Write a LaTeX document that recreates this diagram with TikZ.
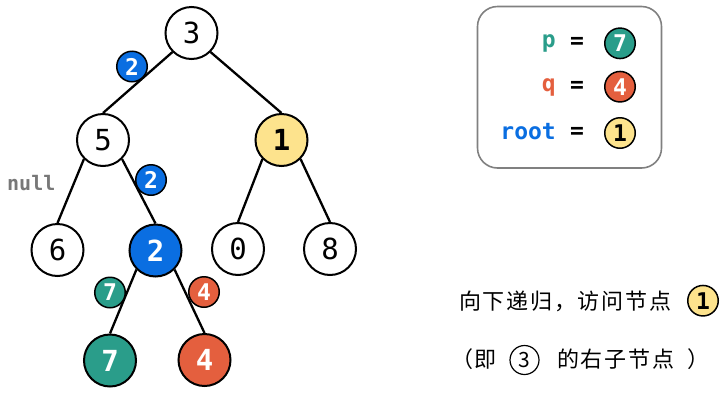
\documentclass[tikz,border=0pt]{standalone}
\usepackage{fontspec}
\setmonofont{DejaVu Sans Mono}
\newfontfamily\cjk[LetterSpace=8]{Noto Sans CJK SC}
\newfontfamily\cjkplain{Noto Sans CJK SC}
\definecolor{cblue}{RGB}{10,110,225}
\definecolor{cteal}{RGB}{42,157,138}
\definecolor{cred}{RGB}{228,95,62}
\definecolor{cyellow}{RGB}{253,227,141}
\definecolor{cgray}{RGB}{128,128,128}
\definecolor{cnull}{RGB}{120,120,120}
\tikzset{
  tn/.style={circle, draw=black, line width=2pt, minimum size=52pt, inner sep=0pt, fill=white,
    font=\fontsize{29}{29}\selectfont\ttfamily},
  tnb/.style={tn, font=\fontsize{29}{29}\selectfont\ttfamily\bfseries},
  badge/.style={circle, draw=black, line width=1.5pt, minimum size=30.5pt, inner sep=0pt, text=white,
    font=\fontsize{23}{23}\selectfont\ttfamily\bfseries},
  edge/.style={line width=2.3pt, draw=black},
  leg/.style={font=\fontsize{23}{23}\selectfont\ttfamily\bfseries, inner sep=0pt},
  cjkt/.style={font=\fontsize{22}{22}\selectfont\cjk, inner sep=0pt},
}
\begin{document}
\begin{tikzpicture}[x=1pt, y=-1pt]
\useasboundingbox (0,0) rectangle (720,405);
% tree nodes
\node[tn] (n3) at (191.5,33) {3};
\node[tn] (n5) at (103,140) {5};
\node[tnb, fill=cyellow] (n1) at (281.5,140) {1};
\node[tn] (n6) at (57.5,250) {6};
\node[tnb, fill=cblue, text=white] (n2) at (155.5,250.5) {2};
\node[tn] (n0) at (238,249) {0};
\node[tn] (n8) at (330,249) {8};
\node[tnb, fill=cteal, text=white] (n7) at (110,360.5) {7};
\node[tnb, fill=cred, text=white] (n4) at (204.5,360) {4};
% edges
\draw[edge] (n3.south west) -- (n5.north);
\draw[edge] (n3.south east) -- (n1.north);
\draw[edge] (n5.south west) -- (n6.north);
\draw[edge] (n5.south east) -- (n2.north);
\draw[edge] (n1.south west) -- (n0.north);
\draw[edge] (n1.south east) -- (n8.north);
\draw[edge] (n2.south west) -- (n7.north);
\draw[edge] (n2.south east) -- (n4.north);
% badges
\node[badge, fill=cblue] (b2a) at (132,66.5) {2};
\node[badge, fill=cblue] (b2b) at (151,180) {2};
\node[badge, fill=cteal] (b7) at (110,292.5) {7};
\node[badge, fill=cred] (b4) at (204,292) {4};
\node[anchor=base west, inner sep=0pt, text=cnull, font=\fontsize{20}{20}\selectfont\ttfamily\bfseries] (nul) at (7,190) {null};
% legend
\draw[line width=1.6pt, draw=cgray, rounded corners=20pt] (477.5,6.5) rectangle (661.5,168);
\node[leg, text=cteal, anchor=base east] (lp) at (556,47) {p};
\node[leg, text=cred, anchor=base east] (lq) at (556,91) {q};
\node[leg, text=cblue, anchor=base east] (lr) at (556,139) {root};
\node[leg] (e1) at (577,43.3) {=};
\node[leg] (e2) at (577,86.7) {=};
\node[leg] (e3) at (577,133) {=};
\node[badge, fill=cteal] (lb7) at (620,43.3) {7};
\node[badge, fill=cred] (lb4) at (620,86.7) {4};
\node[badge, fill=cyellow, text=black] (lb1) at (620,133) {1};
% caption
\node[cjkt, anchor=west] (t1) at (459,301.5) {向下递归，访问节点};
\node[badge, fill=cyellow, text=black] (t1b) at (703,300.7) {1};
\node[cjkt, anchor=east] (t2a) at (497,359) {（即};
\node[circle, draw=black, line width=1.2pt, minimum size=29pt, inner sep=0pt, fill=white,
  font=\fontsize{21}{21}\selectfont\cjkplain] (t2b) at (524.5,360) {3};
\node[cjkt, anchor=west] (t2c) at (557,359) {的右子节点};
\node[cjkt, anchor=west] (t2d) at (687,359) {）};
\end{tikzpicture}
\end{document}
